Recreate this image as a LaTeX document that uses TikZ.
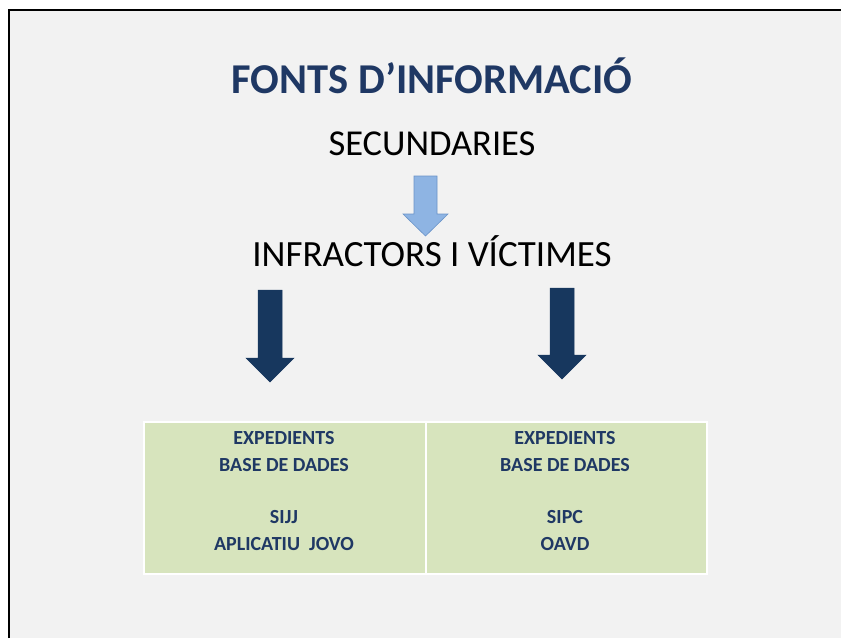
\documentclass[tikz,border=0pt]{standalone}
\usepackage{fontspec}
\setmainfont{Carlito}
\definecolor{bgray}{HTML}{F2F2F2}
\definecolor{navy}{HTML}{1F3864}
\definecolor{darr}{HTML}{17375E}
\definecolor{larr}{HTML}{8EB4E3}
\definecolor{larrb}{HTML}{6A93C8}
\definecolor{cellg}{HTML}{D7E4BD}
\tikzset{
  celltext/.style={font=\fontsize{20}{27.5}\selectfont\bfseries, text=navy, align=center},
  darkarrow/.style={fill=darr, draw=darr, line width=0.5pt},
  cellbox/.style={fill=cellg, draw=white, line width=2pt}
}
\begin{document}
\begin{tikzpicture}[x=1pt,y=-1pt]
\useasboundingbox (0,0) rectangle (841,638);
\fill[white] (0,0) rectangle (841,638);
\fill[bgray] (9,10) rectangle (841,638);
\draw[black, line width=2pt] (9,638) -- (9,10) -- (841,10);
\node[font=\fontsize{42.5}{50}\selectfont\bfseries, text=navy] (title) at (432,76) {FONTS D’INFORMACIÓ};
\node[font=\fontsize{36.5}{42}\selectfont] (sec) at (432,144) {SECUNDARIES};
\node[font=\fontsize{37}{42}\selectfont] (inf) at (432,251) {INFRACTORS I VÍCTIMES};
% light arrow
\filldraw[fill=larr, draw=larrb, line width=0.6pt]
  (414,176) -- (437,176) -- (437,214) -- (448,214) -- (425.5,236) -- (403,214) -- (414,214) -- cycle;
% dark arrows
\filldraw[darkarrow] (258,290) -- (282,290) -- (282,358) -- (294,358) -- (270,382) -- (246,358) -- (258,358) -- cycle;
\filldraw[darkarrow] (550,288) -- (574,288) -- (574,355) -- (586,355) -- (562,379) -- (538,355) -- (550,355) -- cycle;
% table
\node[cellbox, minimum width=282pt, minimum height=152pt, anchor=north west, inner sep=0pt] (c1) at (143,421) {};
\node[cellbox, minimum width=281pt, minimum height=152pt, anchor=north west, inner sep=0pt] (c2) at (425,421) {};
\node[celltext, anchor=north] (t1) at (284,427.5) {EXPEDIENTS\\BASE DE DADES\\[24pt]SIJJ\\APLICATIU\ \ JOVO};
\node[celltext, anchor=north] (t2) at (565,427.5) {EXPEDIENTS\\BASE DE DADES\\[24pt]SIPC\\OAVD};
\end{tikzpicture}
\end{document}
